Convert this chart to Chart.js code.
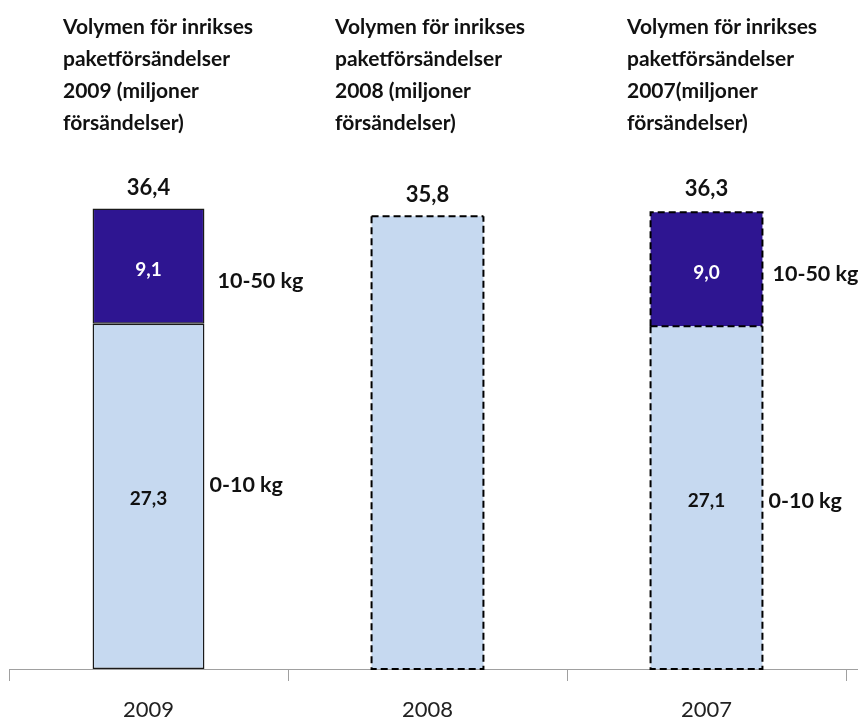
<!DOCTYPE html>
<html><head><meta charset="utf-8">
<script src="https://cdn.jsdelivr.net/npm/chart.js@4/dist/chart.umd.min.js"></script>
<style>
html,body{margin:0;padding:0;background:#fff;}
#wrap{position:relative;width:858px;height:723px;}
canvas{position:absolute;left:0;top:0;}
.ttl{position:absolute;top:10px;font-family:Lato,"Open Sans",sans-serif;font-weight:bold;font-size:21px;line-height:32px;color:#111;white-space:nowrap;}
</style></head>
<body>
<div id="wrap">
<canvas id="c" width="858" height="723"></canvas>
<div class="ttl" style="left:63px">Volymen för inrikses<br>paketförsändelser<br>2009 (miljoner<br>försändelser)</div>
<div class="ttl" style="left:335px">Volymen för inrikses<br>paketförsändelser<br>2008 (miljoner<br>försändelser)</div>
<div class="ttl" style="left:627px">Volymen för inrikses<br>paketförsändelser<br>2007(miljoner<br>försändelser)</div>
</div>
<script>
const categories = ['2009', '2008', '2007'];
const light = [27.3, 35.8, 27.1];     // 0-10 kg (2008: total only)
const dark = [9.1, null, 9.0];        // 10-50 kg
const totals = [36.4, 35.8, 36.3];
const seriesNames = ['0-10 kg', '10-50 kg'];
const dashed = [false, true, true];

const fmt = v => v.toFixed(1).replace('.', ',');
const FONT = 'Lato, "Open Sans", sans-serif';

const labelPlugin = {
  id: 'labels',
  afterDatasetsDraw(chart) {
    const ctx = chart.ctx;
    const metaL = chart.getDatasetMeta(0), metaD = chart.getDatasetMeta(1);
    const ca = chart.chartArea;
    ctx.save();
    // axis line continues to the right edge
    ctx.strokeStyle = '#A0A0A0';
    ctx.lineWidth = 1;
    ctx.beginPath();
    ctx.moveTo(ca.right, Math.round(ca.bottom) + 0.5);
    ctx.lineTo(chart.width, Math.round(ca.bottom) + 0.5);
    ctx.stroke();
    // dashed borders
    ctx.setLineDash([7, 4]);
    ctx.lineWidth = 2;
    ctx.strokeStyle = '#000';
    categories.forEach((c, i) => {
      if (!dashed[i]) return;
      const pl = metaL.data[i].getProps(['x', 'y', 'base', 'width'], true);
      const l = pl.x - pl.width / 2, r = pl.x + pl.width / 2;
      ctx.beginPath();
      ctx.moveTo(l, pl.y); ctx.lineTo(l, pl.base); ctx.lineTo(r, pl.base); ctx.lineTo(r, pl.y);
      ctx.stroke();
      if (dark[i] != null) {
        const pd = metaD.data[i].getProps(['y', 'base'], true);
        ctx.beginPath();
        ctx.moveTo(l, pd.base); ctx.lineTo(l, pd.y); ctx.lineTo(r, pd.y); ctx.lineTo(r, pd.base);
        ctx.stroke();
        ctx.beginPath();
        ctx.moveTo(l, pd.base); ctx.lineTo(r, pd.base);
        ctx.stroke();
      } else {
        ctx.beginPath();
        ctx.moveTo(l, pl.y); ctx.lineTo(r, pl.y);
        ctx.stroke();
      }
    });
    ctx.setLineDash([]);
    ctx.textAlign = 'center';
    ctx.textBaseline = 'middle';
    const y = chart.scales.y;
    categories.forEach((c, i) => {
      const el = metaL.data[i];
      const x = el.x, w = el.width;
      ctx.font = 'bold 22px ' + FONT;
      ctx.fillStyle = '#111';
      ctx.fillText(fmt(totals[i]), x, y.getPixelForValue(totals[i]) - 21);
      if (dark[i] != null) {
        const yl = (y.getPixelForValue(0) + y.getPixelForValue(light[i])) / 2;
        const yd = (y.getPixelForValue(light[i]) + y.getPixelForValue(light[i] + dark[i])) / 2;
        ctx.font = 'bold 19px ' + FONT;
        ctx.fillStyle = '#111';
        ctx.fillText(fmt(light[i]), x, yl + 3);
        ctx.fillStyle = '#fff';
        ctx.fillText(fmt(dark[i]), x, yd + 4);
        ctx.font = 'bold 21.5px ' + FONT;
        ctx.fillStyle = '#111';
        ctx.textAlign = 'left';
        ctx.fillText(seriesNames[0], x + w / 2 + (i === 0 ? 5 : 6), yl - (i === 0 ? 11 : -3));
        ctx.fillText(seriesNames[1], x + w / 2 + (i === 0 ? 13 : 10), yd + (i === 0 ? 15 : 5));
        ctx.textAlign = 'center';
      }
    });
    ctx.restore();
  }
};

new Chart(document.getElementById('c'), {
  type: 'bar',
  data: {
    labels: categories,
    datasets: [
      { label: seriesNames[0], data: light, backgroundColor: '#C6D9F0',
        borderColor: '#1a1a1a', borderWidth: ctx => dashed[ctx.dataIndex] ? 0 : 1.5, borderSkipped: false },
      { label: seriesNames[1], data: dark, backgroundColor: '#2E1591',
        borderColor: '#1a1a1a', borderWidth: ctx => dashed[ctx.dataIndex] ? 0 : 1.5, borderSkipped: false }
    ]
  },
  options: {
    responsive: false,
    animation: false,
    layout: { padding: { left: 9, right: 12, top: 163, bottom: 0 } },
    plugins: { legend: { display: false }, tooltip: { enabled: false } },
    scales: {
      x: {
        stacked: true,
        afterFit(scale) { scale.height = 54; },
        grid: { offset: true, drawOnChartArea: false, tickLength: 12, color: '#A0A0A0' },
        border: { display: true, color: '#A0A0A0' },
        ticks: { padding: 16, color: '#222', font: { family: FONT, size: 22, lineHeight: 1.2 } }
      },
      y: { stacked: true, display: false, min: 0, max: 40 }
    },
    datasets: { bar: { categoryPercentage: 1, barPercentage: 0.401 } }
  },
  plugins: [labelPlugin]
});
</script>
</body></html>
